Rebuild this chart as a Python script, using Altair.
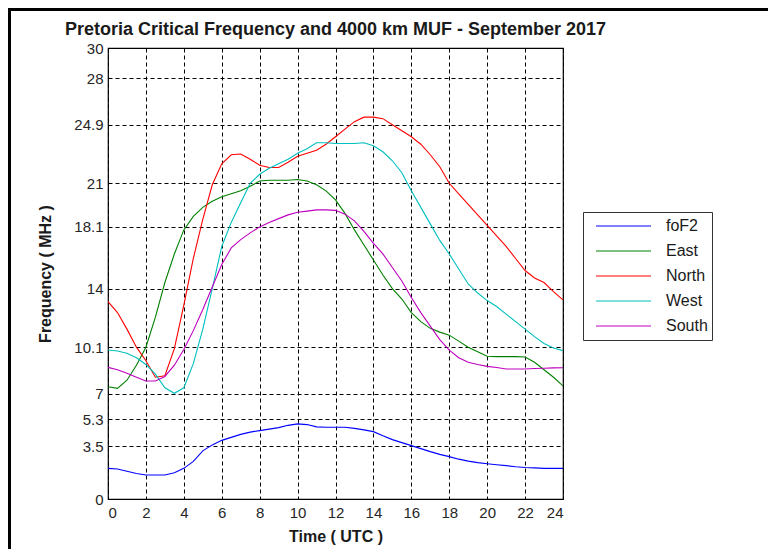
import altair as alt
import pandas as pd

HOURS = [i * 0.5 for i in range(49)]

FOF2 = [2.04, 2.0, 1.85, 1.7, 1.6, 1.6, 1.6, 1.75, 2.04, 2.5, 3.2, 3.6, 3.9, 4.1, 4.3, 4.45,
        4.55, 4.65, 4.75, 4.9, 5.0, 4.95, 4.8, 4.77, 4.77, 4.77, 4.7, 4.6, 4.48, 4.2, 3.95, 3.75,
        3.55, 3.35, 3.15, 2.97, 2.82, 2.65, 2.52, 2.42, 2.35, 2.28, 2.22, 2.15, 2.1, 2.07, 2.04, 2.04, 2.04]
EAST = [7.47, 7.36, 7.9, 8.9, 10.1, 12.1, 14.4, 16.3, 17.9, 18.8, 19.4, 19.8, 20.1, 20.3, 20.5, 20.8,
        21.15, 21.2, 21.2, 21.2, 21.25, 21.15, 20.9, 20.5, 19.9, 19.0, 17.9, 16.9, 15.9, 14.9, 14.0, 13.3,
        12.4, 11.8, 11.35, 11.1, 10.9, 10.5, 10.1, 9.8, 9.5, 9.47, 9.47, 9.47, 9.45, 9.1, 8.6, 8.1, 7.52]
NORTH = [13.13, 12.4, 11.3, 10.1, 9.2, 8.1, 8.2, 10.0, 12.9, 16.0, 18.6, 20.9, 22.3, 22.9, 22.95, 22.6,
         22.2, 22.05, 22.05, 22.4, 22.8, 23.0, 23.2, 23.6, 24.1, 24.6, 25.1, 25.4, 25.4, 25.3, 24.9, 24.5,
         24.1, 23.6, 22.9, 22.1, 21.0, 20.3, 19.6, 18.9, 18.2, 17.5, 16.8, 16.0, 15.2, 14.7, 14.4, 13.8, 13.24]
WEST = [9.91, 9.85, 9.7, 9.4, 8.95, 8.3, 7.4, 7.03, 7.4, 9.0, 11.3, 14.0, 16.8, 18.4, 19.7, 21.0,
        21.6, 22.0, 22.3, 22.6, 23.0, 23.3, 23.7, 23.7, 23.65, 23.65, 23.65, 23.7, 23.5, 23.1, 22.5, 21.7,
        20.5, 19.4, 18.3, 17.2, 16.3, 15.3, 14.3, 13.7, 13.2, 12.8, 12.3, 11.8, 11.3, 10.8, 10.35, 10.05, 9.87]
SOUTH = [8.76, 8.6, 8.36, 8.1, 7.85, 7.85, 8.15, 8.9, 9.95, 11.2, 12.6, 14.1, 15.6, 16.7, 17.25, 17.7,
         18.1, 18.4, 18.65, 18.9, 19.07, 19.15, 19.23, 19.23, 19.2, 18.95, 18.5, 17.8, 17.0, 16.3, 15.4, 14.5,
         13.4, 12.4, 11.5, 10.6, 9.9, 9.4, 9.1, 8.95, 8.82, 8.75, 8.65, 8.65, 8.65, 8.68, 8.7, 8.72, 8.73]

SERIES = ["foF2", "East", "North", "West", "South"]
COLORS = ["#0000ff", "#008000", "#ff0000", "#00bfbf", "#bf00bf"]
X_TICKS = list(range(0, 25, 2))
Y_TICKS = [0, 3.5, 5.3, 7, 10.1, 14, 18.1, 21, 24.9, 28, 30]

rows = []
for name, vals in zip(SERIES, [FOF2, EAST, NORTH, WEST, SOUTH]):
    for h, v in zip(HOURS, vals):
        rows.append({"Time": h, "Frequency": v, "Series": name})
df = pd.DataFrame(rows)

FONT = "Liberation Sans"

lines = alt.Chart(df).mark_line(strokeWidth=1.1, clip=True).encode(
    x=alt.X("Time:Q", scale=alt.Scale(domain=[0, 24], nice=False),
            axis=alt.Axis(values=X_TICKS, title="Time ( UTC )", labelPadding=6, titlePadding=8)),
    y=alt.Y("Frequency:Q", scale=alt.Scale(domain=[0, 30], nice=False),
            axis=alt.Axis(values=Y_TICKS, format=".3~r", title="Frequency ( MHz )",
                          labelPadding=5, titlePadding=20)),
    color=alt.Color("Series:N", sort=SERIES,
                    scale=alt.Scale(domain=SERIES, range=COLORS),
                    legend=alt.Legend(title=None, orient="none", legendX=475, legendY=164,
                                      symbolType="stroke", symbolSize=3025, symbolStrokeWidth=1.2,
                                      clipHeight=20, rowPadding=5, padding=4,
                                      symbolOffset=8, labelOffset=14,
                                      labelFontSize=16, labelFont=FONT, labelColor="#1a1a1a",
                                      strokeColor="#333333", fillColor="#ffffff")),
    detail="Series:N",
    order="Time:Q",
)

frame_top = alt.Chart(df).mark_rule(color="#000000", strokeWidth=3).encode(
    x=alt.value(-100), x2=alt.value(660), y=alt.value(-38.5))
frame_left = alt.Chart(df).mark_rule(color="#000000", strokeWidth=3).encode(
    x=alt.value(-98.5), y=alt.value(-40), y2=alt.value(501))

chart = alt.layer(lines, frame_top, frame_left).properties(
    width=455, height=451,
    padding={"left": 100, "top": 40, "right": 205, "bottom": 50},
    autosize=alt.AutoSizeParams(type="none"),
    background="#ffffff",
    title=alt.TitleParams("Pretoria Critical Frequency and 4000 km MUF - September 2017",
                          fontSize=18, fontWeight="bold", font=FONT, color="#1a1a1a",
                          anchor="middle", offset=13, dy=59, baseline="alphabetic", frame="group"),
).configure_axis(
    grid=True, gridColor="#000000", gridDash=[4, 3], gridOpacity=1, gridWidth=1,
    domain=False, ticks=False,
    labelFont=FONT, labelFontSize=15, labelColor="#262626",
    titleFont=FONT, titleFontSize=16, titleFontWeight="bold", titleColor="#1a1a1a",
).configure_view(
    stroke="#000000", strokeWidth=1.2,
)

chart.save("out.html", embed_options={"renderer": "svg", "actions": False})
